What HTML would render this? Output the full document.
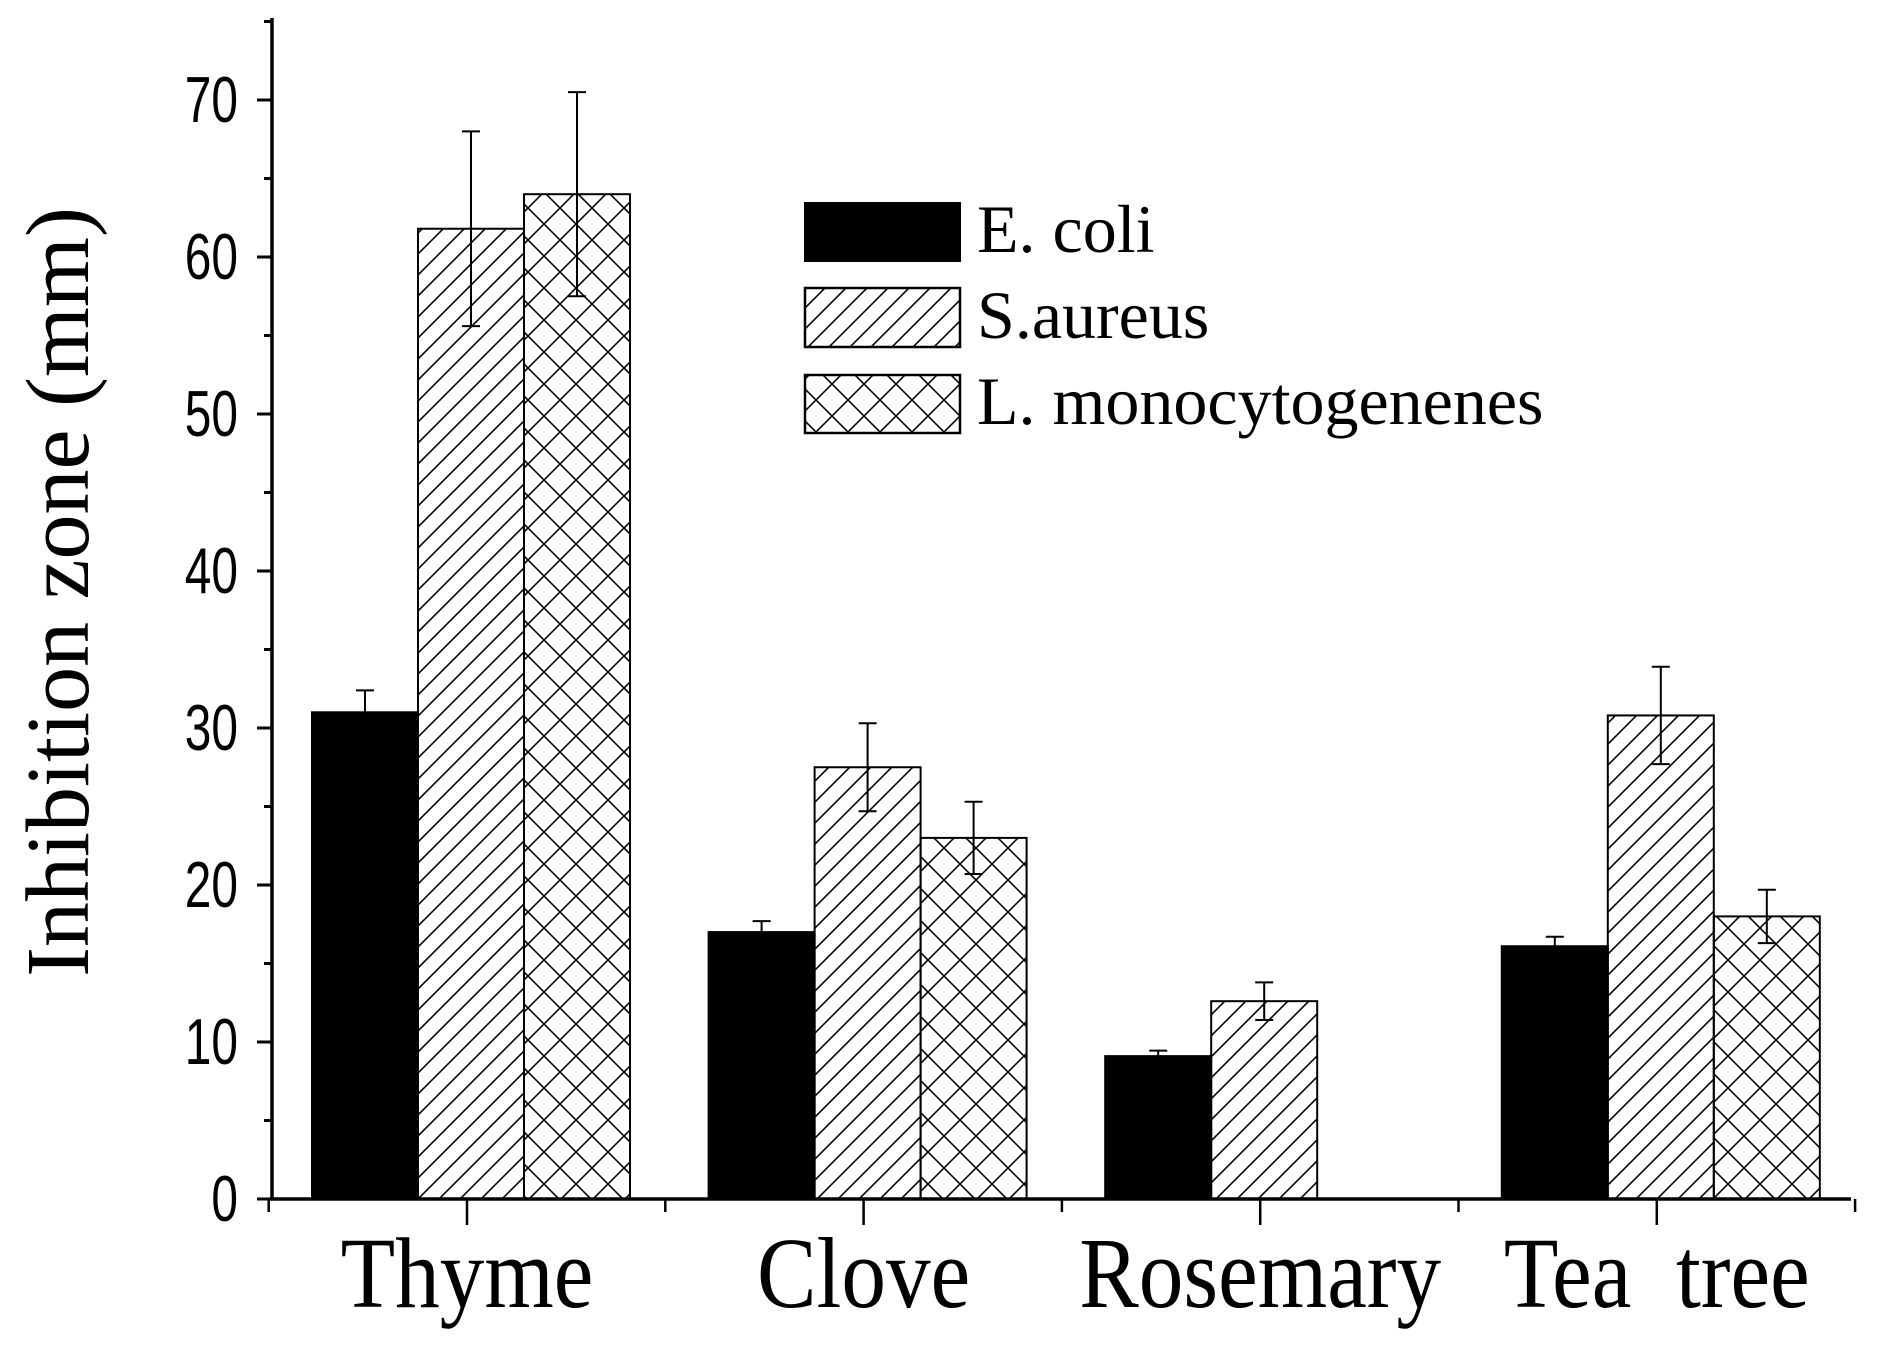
<!DOCTYPE html>
<html><head><meta charset="utf-8"><style>
html,body{margin:0;padding:0;background:#fff;}
svg{display:block;}
</style></head><body>
<svg id="chart" width="1883" height="1345" viewBox="0 0 1883 1345" xmlns="http://www.w3.org/2000/svg">
<defs>
<pattern id="diag" patternUnits="userSpaceOnUse" width="21" height="21">
<path d="M-2,23 L23,-2 M-12,12 L12,-12 M9,33 L33,9" stroke="#000" stroke-width="1.6"/>
</pattern>
<pattern id="cross" patternUnits="userSpaceOnUse" width="32" height="32">
<path d="M0,0 L32,32 M32,0 L0,32" stroke="#000" stroke-width="1.6"/>
</pattern>
</defs>
<g id="plot"></g>
<text transform="translate(88,592) rotate(-90)" text-anchor="middle" font-family="Liberation Serif, serif" font-size="90">Inhibition zone (mm)</text>
<g>
<rect x="805" y="203" width="155" height="58" fill="#000" stroke="#000" stroke-width="2"/>
<text x="977" y="252" font-family="Liberation Serif, serif" font-size="68">E. coli</text>
<rect x="805" y="288" width="155" height="59" fill="url(#diag)" stroke="#000" stroke-width="2.5"/>
<text x="977" y="338" font-family="Liberation Serif, serif" font-size="68">S.aureus</text>
<rect x="805" y="375" width="155" height="58" fill="url(#cross)" stroke="#000" stroke-width="2.5"/>
<text x="977" y="424" font-family="Liberation Serif, serif" font-size="68">L. monocytogenenes</text>
</g>
</svg>
<script>
const categories = ["Thyme", "Clove", "Rosemary", "Tea\u00a0\u00a0tree"];
const eColi = [31, 17, 9.1, 16.1];
const eColiErr = [1.4, 0.7, 0.35, 0.6];
const sAureus = [61.8, 27.5, 12.6, 30.8];
const sAureusErr = [6.2, 2.8, 1.2, 3.1];
const lMono = [64, 23, 0, 18];
const lMonoErr = [6.5, 2.3, 0, 1.7];
const yTicks = [0, 10, 20, 30, 40, 50, 60, 70];

const NS = "http://www.w3.org/2000/svg";
const plot = document.getElementById("plot");
const X0 = 272, Y0 = 1199, X1 = 1851, YTOP = 18;
const pxPerUnit = (1199 - 100) / 70;
const y = v => Y0 - v * pxPerUnit;
const groupW = 396.6;
const xc = i => 467 + i * groupW;
const barW = 106;

function mk(tag, attrs) { const e = document.createElementNS(NS, tag); for (const k in attrs) e.setAttribute(k, attrs[k]); plot.appendChild(e); return e; }

const series = [
  {vals: eColi, err: eColiErr, fill: "#000", name: "e-coli"},
  {vals: sAureus, err: sAureusErr, fill: "url(#diag)", name: "s-aureus"},
  {vals: lMono, err: lMonoErr, fill: "url(#cross)", name: "l-mono"}
];
series.forEach((s, si) => {
  s.vals.forEach((v, i) => {
    if (v <= 0) return;
    const x = xc(i) + 4 + (si - 1.5) * barW;
    const r = mk("rect", {x: x, y: y(v), width: barW, height: Y0 - y(v), fill: s.fill, stroke: "#000", "stroke-width": 2});
    
    
    const cx = x + barW / 2, e = s.err[i];
    const g = mk("path", {d: `M${cx},${y(v + e)} L${cx},${y(v - e)} M${cx - 9},${y(v + e)} L${cx + 9},${y(v + e)} M${cx - 9},${y(v - e)} L${cx + 9},${y(v - e)}`, stroke: "#000", "stroke-width": 2, fill: "none"});
    
    
  });
});

const ax = mk("path", {d: `M${X0},${YTOP} L${X0},${Y0} M${X0 - 2},${Y0} L${X1},${Y0}`, stroke: "#000", "stroke-width": 3.5, fill: "none"});



yTicks.forEach(t => {
  const tk = mk("path", {d: `M${X0 - 15},${y(t)} L${X0},${y(t)}`, stroke: "#000", "stroke-width": 3});
  
  
  const mt = mk("path", {d: `M${X0 - 8},${y(t + 5)} L${X0},${y(t + 5)}`, stroke: "#000", "stroke-width": 3});
  
  
  const lb = mk("text", {x: 0, y: 0, "text-anchor": "end", "font-family": "Liberation Sans, sans-serif", "font-size": 52, transform: `translate(238,${y(t) + 22}) scale(0.92,1.25)`});
  lb.textContent = t;
  
  
});

categories.forEach((c, i) => {
  const tk = mk("path", {d: `M${xc(i)},${Y0} L${xc(i)},${Y0 + 26}`, stroke: "#000", "stroke-width": 2.5});
  
  
  const lb = mk("text", {x: 0, y: 0, "text-anchor": "middle", "font-family": "Liberation Serif, serif", "font-size": 96, transform: `translate(${xc(i)},1307) scale(0.93,1.05)`});
  lb.textContent = c;
  
  
});
for (let i = 0; i <= categories.length; i++) {
  const xm = xc(i) - groupW / 2;
  const tk = mk("path", {d: `M${xm},${Y0} L${xm},${Y0 + 13}`, stroke: "#000", "stroke-width": 2.5});
  
  
}
</script>
</body></html>
